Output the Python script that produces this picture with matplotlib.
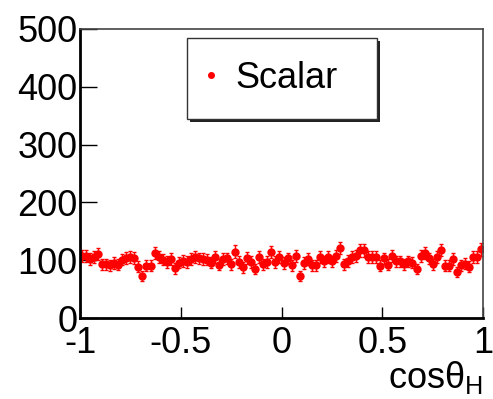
import numpy as np
import matplotlib
matplotlib.use("Agg")
import matplotlib.pyplot as plt
from matplotlib.patches import Rectangle
from matplotlib.lines import Line2D

plt.rcParams['font.family'] = ['Liberation Sans', 'DejaVu Sans']

# histograma cos(theta_H), 100 bins entre -1 y 1
bin_edges = np.linspace(-1, 1, 101)
counts = [108, 107, 102, 105, 110, 93, 93, 91, 95, 92,
          101, 104, 105, 104, 89, 73, 90, 90, 112, 105,
          101, 97, 102, 86, 96, 99, 97, 102, 105, 103,
          102, 101, 96, 105, 92, 102, 103, 93, 115, 97,
          88, 104, 97, 85, 105, 93, 97, 114, 97, 105,
          95, 103, 91, 107, 73, 95, 102, 91, 91, 105,
          98, 105, 98, 107, 121, 93, 99, 105, 108, 117,
          117, 105, 105, 105, 90, 103, 92, 108, 98, 98,
          93, 98, 96, 85, 108, 112, 103, 93, 106, 118,
          90, 90, 102, 80, 91, 94, 89, 105, 105, 119]
serie = "Scalar"
x_ticks = [-1, -0.5, 0, 0.5, 1]
x_labels = ["-1", "-0.5", "0", "0.5", "1"]
y_ticks = [0, 100, 200, 300, 400, 500]

centros = 0.5 * (bin_edges[:-1] + bin_edges[1:])
counts = np.array(counts, dtype=float)
errores = np.sqrt(counts)

fig = plt.figure(figsize=(4.93, 3.99), dpi=100)
ax = fig.add_axes([80/493, 1-318/399, 403/493, 289/399])

ax.errorbar(centros, counts, yerr=errores, fmt='o', color='red', ecolor='red',
            markersize=5, elinewidth=1, capsize=1.3, capthick=1)

ax.set_xlim(-1, 1)
ax.set_ylim(0, 500)
ax.set_xticks(x_ticks)
ax.set_xticklabels(x_labels)
ax.set_yticks(y_ticks)
ax.tick_params(axis='y', direction='in', length=12, width=1, labelsize=26, pad=2)
ax.tick_params(axis='x', direction='in', length=8, width=1, labelsize=26, pad=6)

for lado in ['left', 'bottom']:
    ax.spines[lado].set_linewidth(2)
    ax.spines[lado].set_color('black')
for lado in ['top', 'right']:
    ax.spines[lado].set_linewidth(1.2)
    ax.spines[lado].set_color('#444444')

fig.text(483/493, 3/399, r"cos$\mathregular{\theta_H}$", ha='right', va='bottom', fontsize=26)

# caja de la leyenda con sombra estilo ROOT
x0, y0, w, h = 187/493, 1-119/399, 190/493, 81/399
ax.add_patch(Rectangle((x0 + 3/493, y0 - 3/399), w, h, transform=fig.transFigure,
                       facecolor='#222222', edgecolor='none', zorder=3, clip_on=False))
ax.add_patch(Rectangle((x0, y0), w, h, transform=fig.transFigure,
                       facecolor='white', edgecolor='#333333', linewidth=1, zorder=4, clip_on=False))
marca = Line2D([], [], marker='o', color='red', linestyle='none', markersize=4)
leg = ax.legend([marca], [serie], loc='center left',
                bbox_to_anchor=(x0 + 6/493, y0, w, h), bbox_transform=fig.transFigure,
                frameon=False, fontsize=26, handletextpad=0.17, handlelength=1.0,
                borderpad=0, borderaxespad=0)
leg.set_zorder(6)

fig.savefig("out.png", dpi=100)
